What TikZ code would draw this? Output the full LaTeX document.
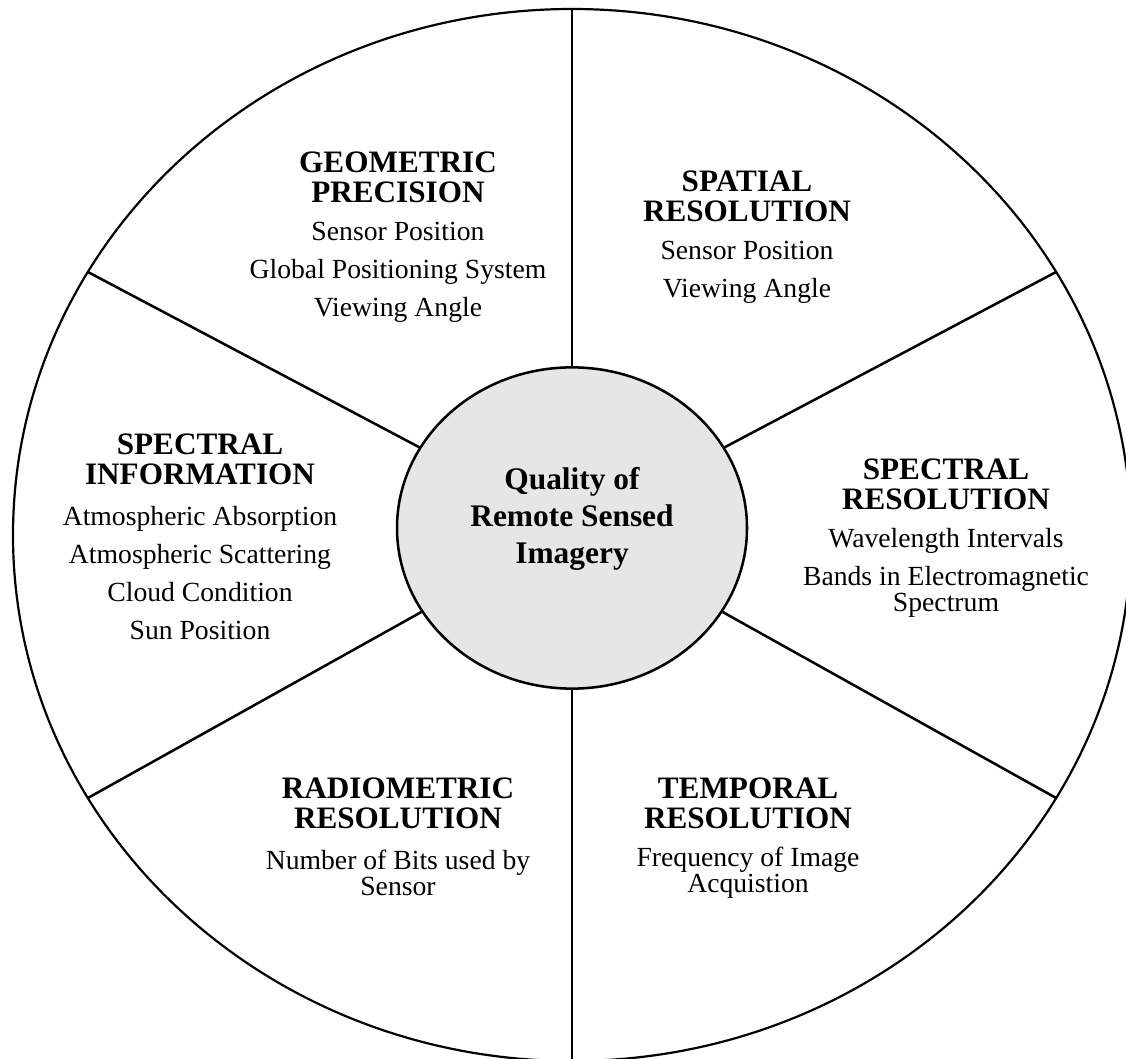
\documentclass[tikz,border=0pt]{standalone}
\usepackage{fontspec}
\setmainfont{Liberation Serif}
\usetikzlibrary{calc,shapes.geometric}
\definecolor{coregray}{RGB}{230,230,230}

\begin{document}
\begin{tikzpicture}[x=0.16mm, y=-0.16mm,
    head/.style={align=center, inner sep=0pt, font=\fontsize{14.2}{13.7}\selectfont\bfseries},
    items/.style={align=center, inner sep=0pt, font=\fontsize{12.6}{17.3}\selectfont},
    spoke/.style={line width=1.15pt},
    core/.style={ellipse, draw, line width=1.15pt, fill=coregray, minimum width=56mm,
      minimum height=51.4mm, inner sep=0pt}]
  \useasboundingbox (0,0) rectangle (1126,1059);
  \clip (0,0) rectangle (1126,1059);

  % Outer ring
  \coordinate (o) at (572,535);
  \draw[line width=1pt] (o) ellipse [x radius=89.44mm, y radius=84.16mm];

  % Hub
  \node[core] (hub) at (572,528) {};
  \node[head, font=\fontsize{14.3}{16.8}\selectfont\bfseries] (hubtext) at (572,519)
    {Quality of\\Remote Sensed\\Imagery};

  % Spokes
  \foreach \a in {30,90,...,330} {
    \coordinate (rim\a) at ($(o)+(\a:89.44mm and 84.16mm)$);
    \draw[spoke] (hub) -- (rim\a);
  }

  % Sectors
  \node[head] (geohead) at (398,177) {GEOMETRIC\\PRECISION};
  \node[items] (geoitems) at (398,272) {Sensor Position\\Global Positioning System\\Viewing Angle};

  \node[head] (spathead) at (747,196) {SPATIAL\\RESOLUTION};
  \node[items] (spatitems) at (747,272) {Sensor Position\\Viewing Angle};

  \node[head] (infohead) at (200,459) {SPECTRAL\\INFORMATION};
  \node[items] (infoitems) at (200,573) {Atmospheric Absorption\\Atmospheric Scattering\\Cloud Condition\\Sun Position};

  \node[head] (spechead) at (946,484) {SPECTRAL\\RESOLUTION};
  \node[items] (specitems) at (946,573) {Wavelength Intervals\\Bands in Electromagnetic\\[-5.5pt]Spectrum};

  \node[head] (radhead) at (398,803) {RADIOMETRIC\\RESOLUTION};
  \node[items] (raditems) at (398,873) {Number of Bits used by\\[-5.5pt]Sensor};

  \node[head] (temphead) at (748,803) {TEMPORAL\\RESOLUTION};
  \node[items] (tempitems) at (748,873) {Frequency of Image\\[-5.5pt]Acquistion};
\end{tikzpicture}
\end{document}
